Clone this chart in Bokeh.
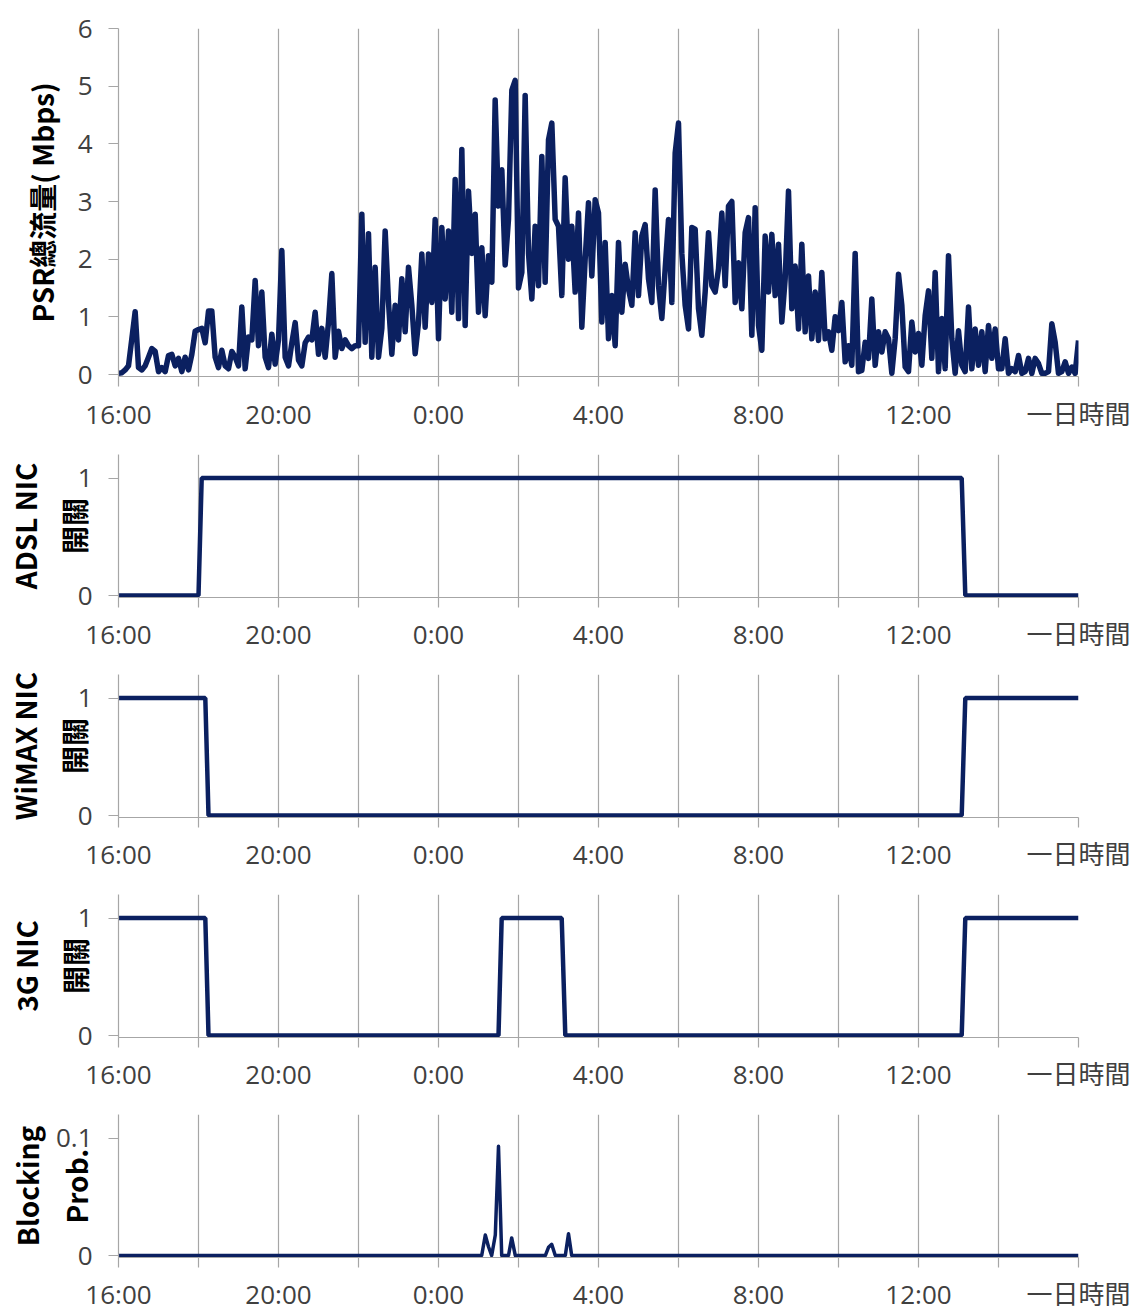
from bokeh.plotting import figure
from bokeh.models import Range1d, FixedTicker, NumeralTickFormatter
from bokeh.layouts import column
from bokeh.embed import file_html
from bokeh.resources import INLINE

# ---------------- data ----------------
SAMPLE_MINUTES = 5
traffic_mbps = [
    0.02, 0.03, 0.08, 0.15, 0.62, 1.09, 0.12, 0.08, 0.15, 0.30, 0.45, 0.40, 0.05, 0.12, 0.05, 0.33, 0.35, 0.15, 0.28, 0.05, 0.30, 0.08, 0.35, 0.75, 0.78,
    0.80, 0.55, 1.10, 1.10, 0.30, 0.12, 0.42, 0.15, 0.10, 0.40, 0.30, 0.15, 1.17, 0.10, 0.65, 0.60, 1.63, 0.50, 1.43, 0.30, 0.12, 0.70, 0.18, 0.60,
    2.15, 0.30, 0.15, 0.55, 0.90, 0.25, 0.15, 0.55, 0.65, 0.60, 1.08, 0.35, 0.80, 0.30, 0.90, 1.75, 0.30, 0.75, 0.45, 0.60, 0.50, 0.45, 0.50, 0.50,
    2.78, 0.56, 2.44, 0.30, 1.86, 0.30, 0.80, 2.49, 1.25, 0.35, 1.20, 0.60, 1.66, 0.74, 1.86, 1.20, 0.36, 0.90, 2.09, 0.82, 2.09, 1.25, 2.69, 0.62,
    2.55, 1.31, 2.49, 1.08, 3.38, 0.97, 3.90, 0.85, 3.18, 2.10, 2.78, 1.08, 2.20, 1.02, 2.06, 1.60, 4.76, 2.92, 3.55, 1.90, 2.69, 4.93, 5.10, 1.50,
    1.77, 4.84, 2.10, 1.31, 2.57, 1.54, 3.78, 1.60, 4.07, 4.36, 2.69, 2.57, 1.37, 3.41, 2.00, 2.57, 1.43, 2.80, 0.82, 2.00, 2.98, 1.71, 3.03, 2.80,
    0.91, 2.29, 0.62, 1.37, 0.50, 2.29, 1.08, 1.91, 1.48, 1.20, 2.46, 1.37, 2.40, 2.60, 1.66, 1.25, 3.20, 1.54, 0.97, 1.83, 2.69, 1.25, 3.84, 4.36,
    2.10, 1.20, 0.79, 2.55, 2.52, 1.14, 0.68, 1.43, 2.46, 1.54, 1.43, 1.83, 2.80, 1.54, 2.92, 3.00, 1.25, 1.94, 1.14, 2.46, 2.72, 0.68, 2.89, 0.85,
    0.42, 2.40, 1.43, 2.43, 1.37, 2.26, 0.91, 1.66, 3.18, 1.14, 1.88, 0.79, 2.26, 0.74, 1.71, 0.62, 1.43, 0.59, 1.77, 0.62, 0.74, 0.42, 1.00, 0.76,
    1.25, 0.22, 0.50, 0.16, 2.10, 0.05, 0.07, 0.56, 0.28, 1.31, 0.16, 0.74, 0.39, 0.74, 0.62, 0.02, 0.62, 1.74, 1.20, 0.13, 0.05, 0.91, 0.39, 0.71,
    0.16, 1.02, 1.45, 0.28, 1.77, 0.05, 0.97, 0.10, 2.06, 0.62, 0.02, 0.76, 0.16, 0.05, 1.17, 0.10, 0.79, 0.16, 0.74, 0.05, 0.85, 0.28, 0.79, 0.10,
    0.10, 0.62, 0.02, 0.10, 0.05, 0.33, 0.02, 0.05, 0.28, 0.02, 0.28, 0.19, 0.02, 0.02, 0.05, 0.88, 0.56, 0.02, 0.05, 0.22, 0.02, 0.13, 0.02, 0.59,
]
traffic_hours = [i * SAMPLE_MINUTES / 60 for i in range(len(traffic_mbps))]

adsl_hours = [0, 2.00, 2.08, 21.08, 21.17, 24]
adsl_state = [0, 0, 1, 1, 0, 0]
wimax_hours = [0, 2.17, 2.25, 21.08, 21.17, 24]
wimax_state = [1, 1, 0, 0, 1, 1]
g3_hours = [0, 2.17, 2.25, 9.50, 9.58, 11.08, 11.17, 21.08, 21.17, 24]
g3_state = [1, 1, 0, 0, 1, 1, 0, 0, 1, 1]
block_hours = [0, 9.08, 9.17, 9.25, 9.33, 9.42, 9.50, 9.58, 9.75, 9.83, 9.92,
               10.67, 10.75, 10.83, 10.92, 11.17, 11.25, 11.33, 24]
block_prob = [0, 0, 0.0175, 0.0075, 0, 0.0175, 0.093, 0, 0, 0.015, 0,
              0, 0.007, 0.0095, 0, 0, 0.0185, 0, 0]

grid_hours = [0, 2, 4, 6, 8, 10, 12, 14, 16, 18, 20, 22, 24]
label_hours = [0, 4, 8, 12, 16, 20, 24]
label_text = ["16:00", "20:00", "0:00", "4:00", "8:00", "12:00", "一日時間"]

# ---------------- style ----------------
NAVY = "#0b2060"
GRID = "#a6a6a6"
TICK_FONT = "'Open Sans', 'Noto Sans CJK TC'"
TITLE_FONT = "Noto Sans CJK TC"
W = 1132


def make_fig(height, top, bottom, y0, y1, yticks, title, title_standoff,
             x_standoff=8, line_h=1.22):
    p = figure(width=W, height=height, x_range=Range1d(0, 24), y_range=Range1d(y0, y1),
               output_backend="svg", toolbar_location=None,
               min_border_left=118, min_border_right=54,
               min_border_top=top, min_border_bottom=bottom)
    p.outline_line_color = None
    p.background_fill_color = "white"
    p.border_fill_color = "white"
    p.ygrid.visible = False
    p.xgrid.ticker = FixedTicker(ticks=grid_hours)
    p.xgrid.grid_line_color = GRID
    p.xgrid.grid_line_width = 1.2

    ov = {h: "" for h in grid_hours}
    ov.update(dict(zip(label_hours, label_text)))
    xa = p.xaxis[0]
    xa.ticker = FixedTicker(ticks=grid_hours)
    xa.major_label_overrides = ov
    xa.axis_line_color = GRID
    xa.axis_line_width = 1.2
    xa.major_tick_line_color = GRID
    xa.major_tick_line_width = 1.2
    xa.major_tick_in = 0
    xa.major_tick_out = 10
    xa.minor_tick_line_color = None
    xa.major_label_standoff = x_standoff
    xa.major_label_text_font = TICK_FONT
    xa.major_label_text_font_size = "26px"
    xa.major_label_text_color = "#404040"

    ya = p.yaxis[0]
    ya.ticker = FixedTicker(ticks=yticks)
    ya.axis_line_color = GRID
    ya.axis_line_width = 1.2
    ya.major_tick_line_color = GRID
    ya.major_tick_line_width = 1.2
    ya.major_tick_in = 0
    ya.major_tick_out = 10
    ya.minor_tick_line_color = None
    ya.major_label_standoff = 16
    ya.major_label_text_font = TICK_FONT
    ya.major_label_text_font_size = "26px"
    ya.major_label_text_color = "#404040"
    ya.axis_label = title
    ya.axis_label_standoff = title_standoff
    ya.axis_label_text_font = TITLE_FONT
    ya.axis_label_text_font_size = "28px"
    ya.axis_label_text_font_style = "bold"
    ya.axis_label_text_color = "black"
    ya.axis_label_text_line_height = line_h
    return p


# Panel 1: traffic
p1 = make_fig(434, 28, 56, -0.0345, 6.0, [0, 1, 2, 3, 4, 5, 6],
              "PSR總流量( Mbps)", 13, x_standoff=9)
p1.line(traffic_hours, traffic_mbps, line_color=NAVY, line_width=5.5, line_join="round")

# Panel 2: ADSL
p2 = make_fig(220, 20, 54, -0.0167, 1.2, [0, 1], "ADSL NIC\n開關", -19)
p2.line(adsl_hours, adsl_state, line_color=NAVY, line_width=4.5)

# Panel 3: WiMAX
p3 = make_fig(220, 20, 54, -0.0167, 1.2, [0, 1], "WiMAX NIC\n開關", -19)
p3.line(wimax_hours, wimax_state, line_color=NAVY, line_width=4.5)

# Panel 4: 3G
p4 = make_fig(220, 20, 54, -0.0167, 1.2, [0, 1], "3G NIC\n開關", -20)
p4.line(g3_hours, g3_state, line_color=NAVY, line_width=4.5)

# Panel 5: blocking probability
p5 = make_fig(220, 20, 54, -0.00167, 0.12, [0, 0.1], "Blocking\nProb.", -43)
p5.yaxis[0].formatter = NumeralTickFormatter(format="0.[0]")
p5.line(block_hours, block_prob, line_color=NAVY, line_width=3.5, line_join="round")

layout = column(p1, p2, p3, p4, p5, spacing=0)
open("out.html", "w").write(file_html(layout, INLINE))
